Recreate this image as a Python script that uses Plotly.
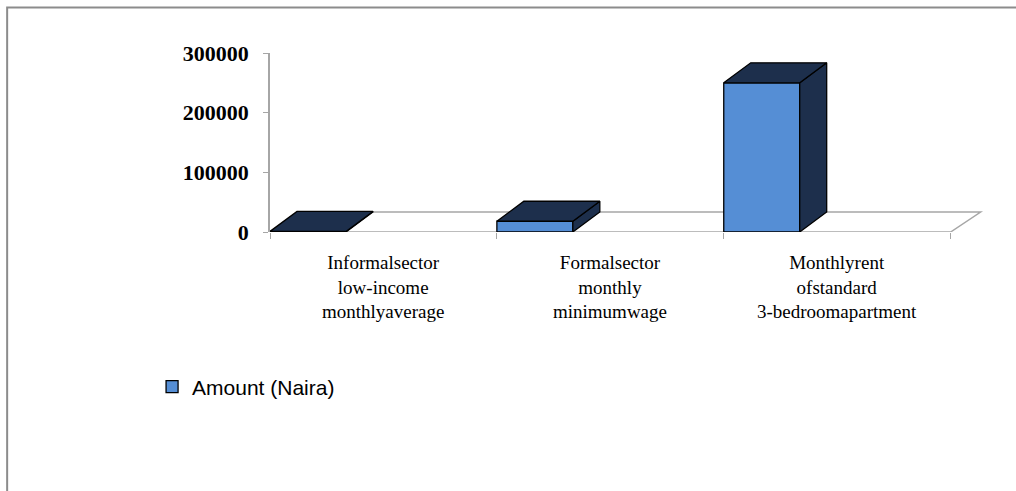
import plotly.graph_objects as go

# ---------------- data ----------------
categories = [
    "Informalsector<br>low-income<br>monthlyaverage",
    "Formalsector<br>monthly<br>minimumwage",
    "Monthlyrent<br>ofstandard<br>3-bedroomapartment",
]
amounts = [1000, 18000, 250000]
series_name = "Amount (Naira)"
y_tickvals = [0, 100000, 200000, 300000]
y_ticktext = ["0", "100000", "200000", "300000"]

# ---------------- layout geometry (pixels) ----------------
W, H = 1016, 491
ML, MT, MB = 270, 53, 259
CAT_PX = 227.0
X0, X1 = -0.5, 2.7
PW = (X1 - X0) * CAT_PX
MR = W - ML - PW
PH = H - MT - MB
Y1 = 300000

DX = 27 / CAT_PX            # depth offset in x units
DY = 20 * Y1 / PH           # depth offset in y units
FDX = 30 / CAT_PX           # floor depth offset
BW = 76 / CAT_PX            # bar width in x units

FRONT = "#558ED5"
DARK = "#1D2F4C"
EDGE = "#000000"
GRID = "#A6A6A6"


def pxx(px):
    return (px - ML) / PW


def pxy(py):
    return (H - MB - py) / PH


fig = go.Figure()

# side and top faces (3D look), computed from values
for i, v in enumerate(amounts):
    L = i - 0.5
    R = L + BW
    fig.add_trace(go.Scatter(
        x=[R, R, R + DX, R + DX, R], y=[0, v, v + DY, DY, 0],
        mode="lines", fill="toself", fillcolor=DARK,
        line=dict(color=EDGE, width=1.3), showlegend=False, hoverinfo="skip"))
    fig.add_trace(go.Scatter(
        x=[L, R, R + DX, L + DX, L], y=[v, v, v + DY, v + DY, v],
        mode="lines", fill="toself", fillcolor=DARK,
        line=dict(color=EDGE, width=1.3), showlegend=False, hoverinfo="skip"))

# front faces
fig.add_trace(go.Bar(
    x=[i - 0.5 + BW / 2 for i in range(len(amounts))], y=amounts, width=BW,
    marker=dict(color=FRONT, line=dict(color=EDGE, width=1.3)),
    name=series_name, showlegend=True))

# floor
n = len(amounts)
fig.add_shape(type="path", xref="x", yref="y", layer="below",
              path=f"M {-0.5},0 L {n-0.5},0 L {n-0.5+FDX},{DY} L {-0.5+FDX},{DY} Z",
              line=dict(color=GRID, width=1.5), fillcolor="white")

# outer border
fig.add_shape(type="rect", xref="paper", yref="paper",
              x0=pxx(7), x1=pxx(W + 10), y0=pxy(H + 10), y1=pxy(7.5),
              line=dict(color="#8C8C8C", width=2))

# category labels
for i, c in enumerate(categories):
    fig.add_annotation(x=i, y=pxy(250), xref="x", yref="paper",
                       text=c, showarrow=False, yanchor="top", xanchor="center",
                       align="center",
                       font=dict(family="Liberation Serif", size=19, color="black"))

fig.update_layout(
    width=W, height=H,
    margin=dict(l=ML, r=MR, t=MT, b=MB, autoexpand=False),
    paper_bgcolor="white", plot_bgcolor="rgba(0,0,0,0)",
    barmode="overlay",
    showlegend=True,
    legend=dict(x=pxx(152), y=pxy(387), xanchor="left", yanchor="middle",
                bgcolor="rgba(0,0,0,0)",
                font=dict(family="Liberation Sans", size=21, color="black")),
    xaxis=dict(range=[X0, X1], showgrid=False, zeroline=False, showline=False,
               tickvals=[-0.5, 0.5, 1.5, 2.5], ticktext=["", "", "", ""],
               ticks="outside", ticklen=6, tickcolor=GRID, fixedrange=True),
    yaxis=dict(range=[0, Y1], showgrid=False, zeroline=False,
               showline=True, linecolor=GRID, linewidth=1.5,
               tickvals=y_tickvals, ticktext=y_ticktext,
               ticks="outside", ticklen=5, tickcolor=GRID,
               ticklabelstandoff=10,
               tickfont=dict(family="Liberation Serif", size=22, color="black",
                             weight="bold"),
               fixedrange=True),
)

fig.write_html("out.html")
